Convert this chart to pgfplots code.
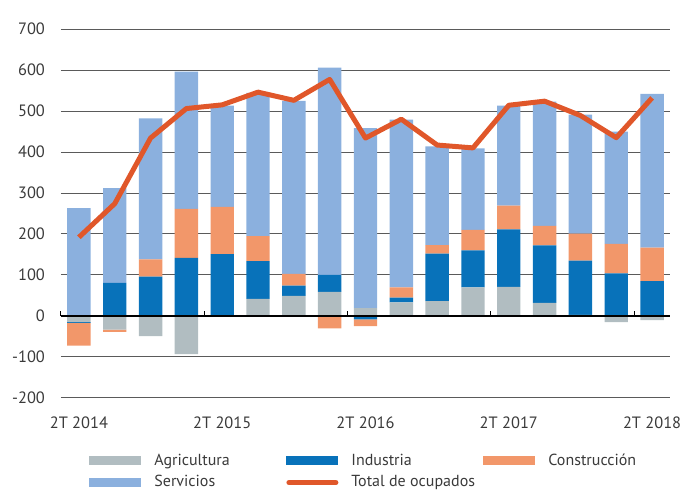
\documentclass[border=0pt]{standalone}
\usepackage{pgfplots}
\pgfplotsset{compat=1.18}
\usepackage{pgfplotstable}
\usepackage{fontspec}
\setmainfont{PT Sans}
\definecolor{cagri}{HTML}{B1BDC1}
\definecolor{cind}{HTML}{0872BA}
\definecolor{ccon}{HTML}{F2976A}
\definecolor{cser}{HTML}{8BB0DE}
\definecolor{cline}{HTML}{E0572A}
\definecolor{cgrid}{HTML}{5A5A5A}
\definecolor{ctext}{HTML}{3A3A3A}

\pgfplotstableread{
x  agp inp cop ser agn inn con tot
0  0   0   0   263 -15 -2  -55 192
1  0   81  0   231 -33 0   -6  274
2  0   96  42  344 -49 0   0   434
3  0   142 119 335 -93 0   0   506
4  0   151 115 247 0   0   0   515
5  42  92  61  349 0   0   0   546
6  49  25  29  422 0   0   0   526
7  59  41  0   506 0   0   -30 577
8  19  0   0   439 0   -8  -17 434
9  33  12  25  409 0   0   0   480
10 36  116 21  241 0   0   0   417
11 70  90  50  199 0   0   0   410
12 71  140 58  244 0   0   0   514
13 32  140 48  303 0   0   0   524
14 3   132 66  290 0   0   0   489
15 0   104 72  274 -15 0   0   435
16 0   85  82  375 -10 0   0   532
}\data

\pgfplotsset{common/.style={scale only axis, width=304.5pt, height=184.5pt,
  xmin=-0.5, xmax=16.5, ymin=-200, ymax=700, at={(0,0)}, anchor=south west},
  barleg/.style={legend image code/.code={\fill[##1] (0pt,-2.25pt) rectangle (26pt,2.25pt);}},
  lineleg/.style={legend image code/.code={\draw[##1, line cap=round] (1.25pt,0pt) -- (24.75pt,0pt);}}}

\begin{document}
\begin{tikzpicture}
\begin{axis}[common, ybar stacked, bar width=11.7pt,
  axis line style={draw=none},
  ymajorgrids, grid style={cgrid, line width=0.5pt},
  ytick={-200,-100,...,700},
  xtick={0,4,8,12,16},
  xticklabels={2T 2014,2T 2015,2T 2016,2T 2017,2T 2018},
  major tick length=0pt,
  tick label style={font=\fontsize{8.2}{10}\selectfont, text=ctext},
  /pgf/number format/assume math mode=true,
  yticklabel style={xshift=-4.5pt},
  xticklabel style={yshift=-5.7pt}]
\addplot[fill=cagri, draw=none] table[x=x,y=agn]{\data};
\addplot[fill=cind, draw=none] table[x=x,y=inn]{\data};
\addplot[fill=ccon, draw=none] table[x=x,y=con]{\data};
\end{axis}
\begin{axis}[common, ybar stacked, bar width=11.7pt, axis on top,
  axis y line=none, axis x line*=middle,
  x axis line style={black, line width=0.6pt},
  xtick={-0.5,3.5,7.5,11.5,15.5}, xticklabels={}, ytick=\empty,
  tick align=inside, major tick length=2.5pt,
  tick style={black, line width=0.5pt},
  legend columns=3, legend cell align=left,
  legend style={at={(0.046,-0.150)}, anchor=north west, draw=none, fill=none,
    inner sep=0pt, nodes={inner sep=0pt}, row sep=3.6pt,
    font=\fontsize{8}{10}\selectfont, text=ctext,
    /tikz/every odd column/.append style={column sep=6.5pt},
    /tikz/every even column/.append style={column sep=4pt}}]
\addplot[fill=cagri, draw=none, barleg] table[x=x,y=agp]{\data};
\addlegendentry{\makebox[62pt][l]{Agricultura}}
\addplot[fill=cind, draw=none, barleg] table[x=x,y=inp]{\data};
\addlegendentry{\makebox[62pt][l]{Industria}}
\addplot[fill=ccon, draw=none, barleg] table[x=x,y=cop]{\data};
\addlegendentry{Construcción}
\addplot[fill=cser, draw=none, barleg] table[x=x,y=ser]{\data};
\addlegendentry{\makebox[62pt][l]{Servicios}}
\addlegendimage{color=cline, line width=2.5pt, lineleg}
\addlegendentry{\makebox[62pt][l]{Total de ocupados}}
\end{axis}
\begin{axis}[common, hide axis]
\addplot[color=cline, line width=2.5pt, line join=round, mark=none]
  table[x=x,y=tot]{\data};
\end{axis}
\pgfresetboundingbox
\path (-30.5pt,-46pt) rectangle (318pt,199pt);
\end{tikzpicture}
\end{document}
